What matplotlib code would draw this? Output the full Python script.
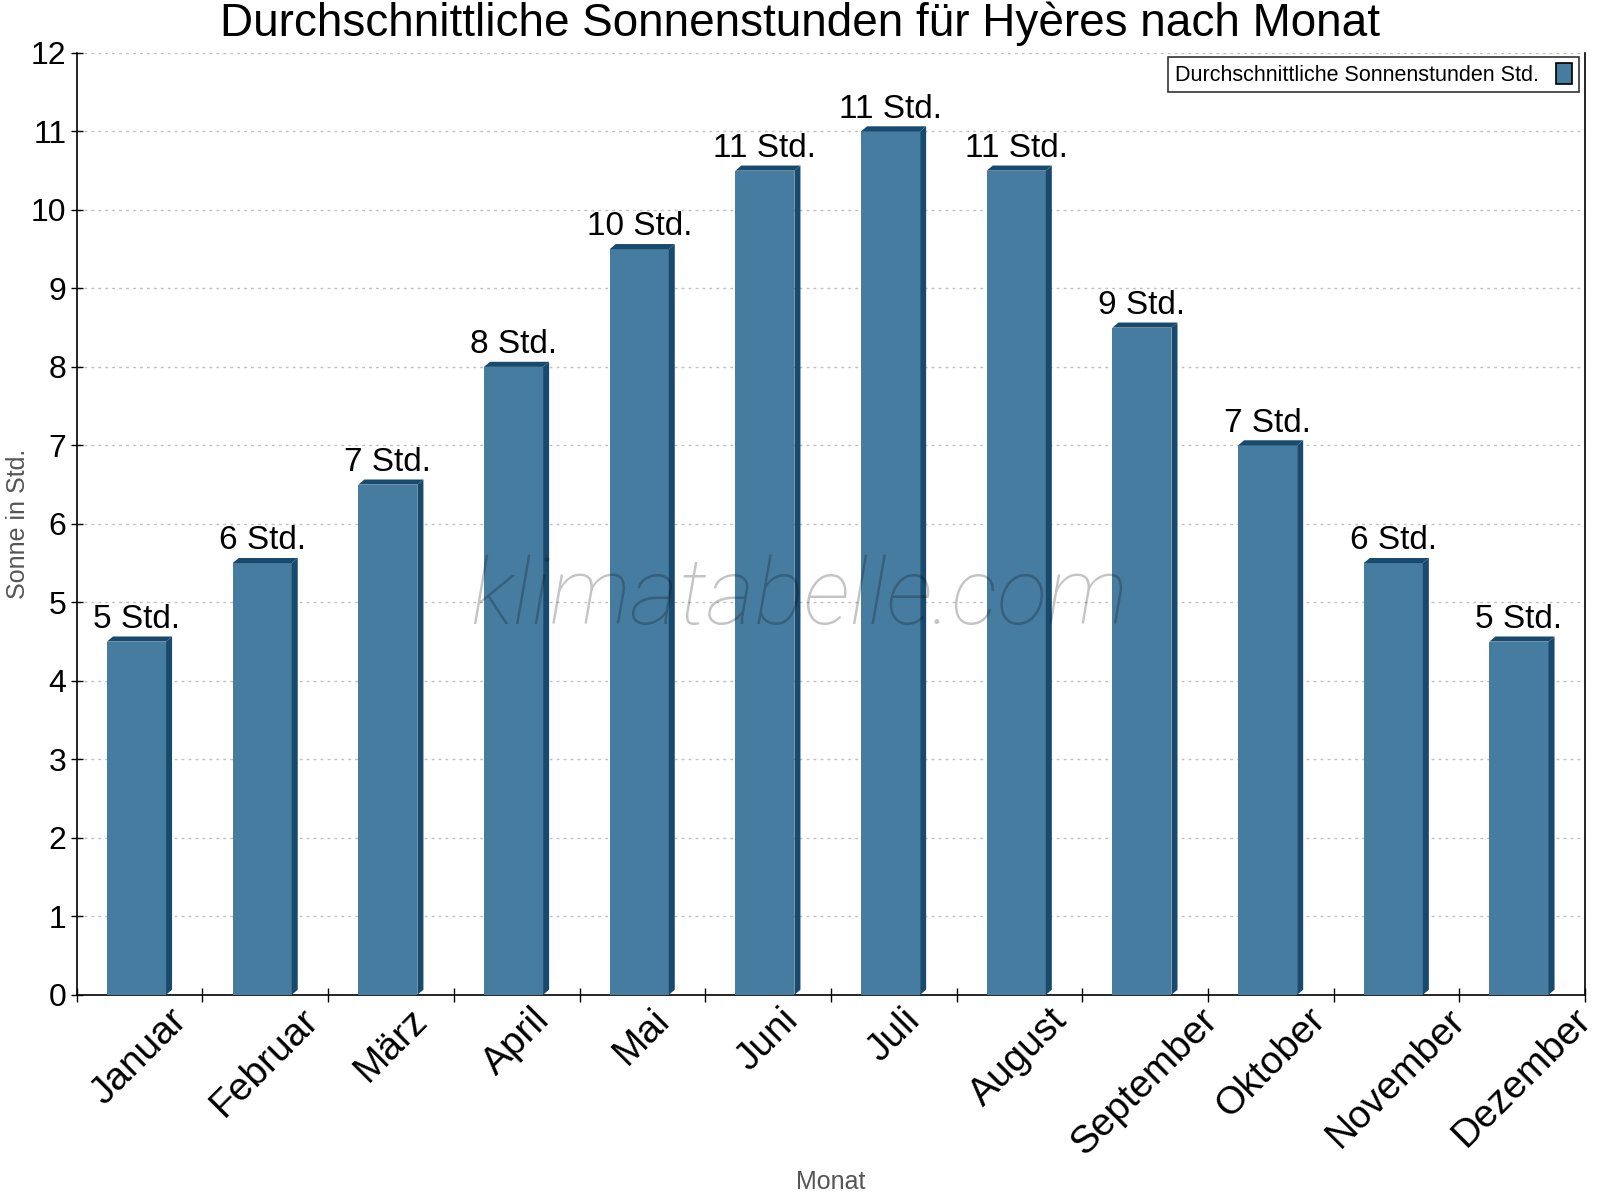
import math
import matplotlib
matplotlib.use("Agg")
import matplotlib.pyplot as plt
from matplotlib.patches import Polygon, Patch

plt.rcParams['font.family'] = ['Liberation Sans', 'DejaVu Sans']

# data
months = ["Januar", "Februar", "März", "April", "Mai", "Juni", "Juli",
          "August", "September", "Oktober", "November", "Dezember"]
sun_hours = [4.5, 5.5, 6.5, 8.0, 9.5, 10.5, 11.0, 10.5, 8.5, 7.0, 5.5, 4.5]
series_name = "Durchschnittliche Sonnenstunden Std."

front_col = "#467ca0"
dark_col = "#184a6d"
bar_w = 0.47
dx, dy = 0.048, 0.065  # depth of the fake 3d effect

fig = plt.figure(figsize=(16, 12), dpi=100)
ax = fig.add_axes([0.048, 0.171, 0.9426, 0.7849])

xs = list(range(len(months)))
centers = [x - 0.025 for x in xs]
ax.bar(centers, sun_hours, width=bar_w, color=front_col, zorder=3)
for c, v in zip(centers, sun_hours):
    l, r = c - bar_w / 2, c + bar_w / 2
    top = Polygon([(l, v), (l + dx, v + dy), (r + dx, v + dy), (r, v)],
                  closed=True, facecolor=dark_col, edgecolor='none', zorder=3)
    side = Polygon([(r, v), (r + dx, v + dy), (r + dx, dy), (r, 0)],
                   closed=True, facecolor=dark_col, edgecolor='none', zorder=3)
    ax.add_patch(top)
    ax.add_patch(side)
    ax.text(c, v + dy + 0.02, "%d Std." % math.floor(v + 0.5),
            ha='center', va='bottom', fontsize=24, color='black', zorder=4)

ax.set_xlim(-0.5, len(months) - 0.5)
ax.set_ylim(0, 12)
ax.set_yticks(range(0, 13))
ax.set_xticks([x - 0.5 for x in range(len(months) + 1)], minor=False)
ax.set_xticklabels([])
ax.set_xticks(xs, minor=True)
ax.set_xticklabels(months, minor=True, rotation=45, ha='center', fontsize=28)
ax.tick_params(axis='x', which='minor', length=0, pad=5)
ax.tick_params(axis='x', which='major', direction='inout', length=10, width=1)
ax.tick_params(axis='y', direction='inout', length=9, width=1, labelsize=23, pad=3)

ax.grid(axis='y', linestyle=(0, (2, 3)), color='#c0c0c0', linewidth=1, zorder=0)
ax.set_axisbelow(True)
ax.spines['top'].set_visible(False)
for s in ['left', 'bottom', 'right']:
    ax.spines[s].set_linewidth(1.2)

ax.set_ylabel("Sonne in Std.", fontsize=18, color='#555555')
ax.yaxis.set_label_coords(-0.031, 0.5)
ax.set_xlabel("Monat", fontsize=18, color='#555555', labelpad=6)
fig.suptitle("Durchschnittliche Sonnenstunden für Hyères nach Monat",
             fontsize=33, y=0.999, va='top')

handle = Patch(facecolor=front_col, edgecolor='black', linewidth=1.2)
leg = ax.legend([handle], [series_name], loc='upper right', fontsize=15.5,
                markerfirst=False, frameon=True, fancybox=False,
                handlelength=0.75, handleheight=1.1, borderpad=0.3,
                borderaxespad=0.3, bbox_to_anchor=(1.0, 1.003))
leg.get_frame().set_edgecolor('black')
leg.get_frame().set_linewidth(1.2)

ax.text(0.479, 0.42, "klimatabelle.com", transform=ax.transAxes,
        fontsize=67, style='italic', fontweight='light',
        family=['Roboto', 'Liberation Sans'], color='black', alpha=0.23,
        ha='center', va='center', zorder=5)

fig.savefig("out.png", dpi=100)
